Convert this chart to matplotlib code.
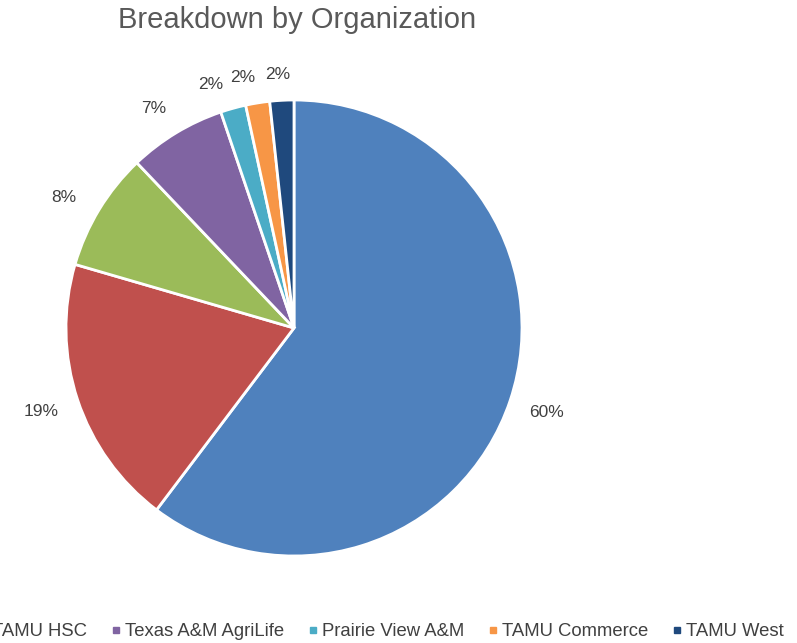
import numpy as np
import matplotlib.pyplot as plt
from matplotlib.lines import Line2D

plt.rcParams['font.family'] = ['Liberation Sans', 'DejaVu Sans']

# slice values (percent), clockwise from 12 o'clock
values = [60.3, 19.2, 8.4, 6.9, 1.8, 1.7, 1.7]
colors = ['#4F81BD', '#C0504D', '#9BBB59', '#8064A2', '#4BACC6', '#F79646', '#1F497D']

# legend entries visible in the picture (first two are cut off the left edge)
legend_names = ['TAMU HSC', 'Texas A&M AgriLife', 'Prairie View A&M', 'TAMU Commerce', 'TAMU West']
legend_colors = colors[2:]

# small angular nudges (deg) that spread the crowded small labels
label_nudge = [0, 0, 1.7, 1.5, 3.5, 2.3, 0.7]

W, H = 797, 643
fig = plt.figure(figsize=(W / 100, H / 100), dpi=100)

# pie centred at (294, 328) px with radius 228 px
cx, cy, r = 294, 328, 228
ax = fig.add_axes([(cx - r) / W, (H - cy - r) / H, 2 * r / W, 2 * r / H])

wedges, _ = ax.pie(values, colors=colors, startangle=90, counterclock=False,
                   wedgeprops=dict(edgecolor='white', linewidth=2))
ax.set_xlim(-1, 1)
ax.set_ylim(-1, 1)
ax.set_aspect('equal')

# percent labels placed outside, Excel-style
for w, v, nud in zip(wedges, values, label_nudge):
    ang = np.deg2rad((w.theta1 + w.theta2) / 2 + nud)
    rl = 1.11 + 0.06 * abs(np.cos(ang))
    ax.text(rl * np.cos(ang), rl * np.sin(ang), f'{v:.0f}%', ha='center', va='center',
            fontsize=12.5, color='#404040')

fig.text(297 / W, 1 - 20 / H, 'Breakdown by Organization', ha='center', va='center',
         fontsize=21, color='#595959')

handles = [Line2D([], [], marker='s', linestyle='none', color=c, markersize=5) for c in legend_colors]
fig.legend(handles, legend_names, loc='center left', bbox_to_anchor=(-30 / W, 1 - 632 / H),
           ncol=5, frameon=False, fontsize=13.3, handlelength=0.6, handletextpad=0.2,
           columnspacing=1.25, labelcolor='#404040', borderaxespad=0)

fig.savefig('out.png', dpi=100)
